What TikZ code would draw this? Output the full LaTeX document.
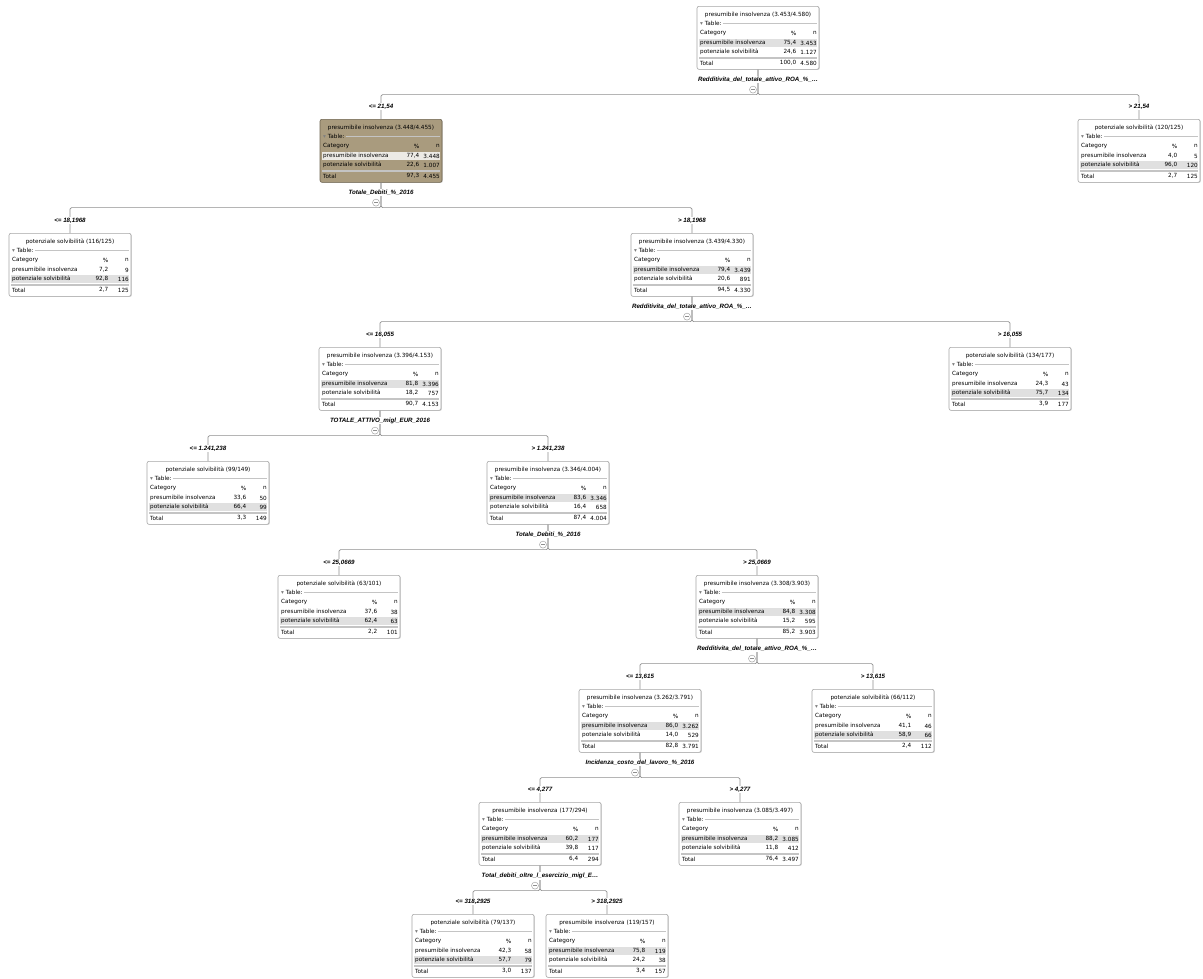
\documentclass[tikz,border=0pt]{standalone}
\usepackage{fontspec}
\newfontfamily\boxfont{DejaVu Sans}
\newfontfamily\labfont{Liberation Sans}
\usetikzlibrary{calc}

\definecolor{linegray}{HTML}{8E8E8E}
\definecolor{boxline}{HTML}{A6A6A6}
\definecolor{shadowc}{HTML}{D6D6D6}
\definecolor{rowhl}{HTML}{E0E0E0}
\definecolor{rulec}{HTML}{C4C4C4}
\definecolor{tanfill}{HTML}{A99B7E}
\definecolor{tanline}{HTML}{6E6450}
\definecolor{tanhl}{HTML}{ECEAE5}

\newcommand\txtf{\boxfont\fontsize{5.7}{6.2}\selectfont}
\newcommand\condf{\labfont\bfseries\itshape\fontsize{6.2}{7}\selectfont}

\tikzset{
  treebox/.style={draw=boxline, fill=white, rounded corners=2pt, line width=0.6pt,
    minimum width=122pt, minimum height=63pt, inner sep=0pt, anchor=north},
  selbox/.style={treebox, fill=tanfill, draw=tanline},
  link/.style={draw=linegray, line width=0.7pt, rounded corners=1.5pt},
  cond/.style={font=\condf, fill=white, inner sep=1pt},
  attr/.style={font=\condf, fill=white, inner sep=1pt},
  txt/.style={font=\txtf, inner sep=0pt},
  collapse/.style={circle, draw=boxline, fill=white, minimum size=7pt, inner sep=0pt,
    line width=0.5pt,
    path picture={\draw[linegray, line width=0.5pt]
      ([xshift=-1.8pt]path picture bounding box.center) --
      ([xshift=1.8pt]path picture bounding box.center);}},
}

% box frame with title and highlighted row
% #1 name, #2 centre x, #3 top y, #4 style, #5 title, #6 highlighted row, #7 highlight colour
\newcommand\tnode[7]{%
  \fill[shadowc, rounded corners=2pt] (#2-60.2,#3+0.9) rectangle (#2+61.9,#3+63.9);
  \node[#4] (#1) at (#2,#3) {};
  \fill[#7] ($(#1.north)+(-59,24+9*#6)$) rectangle ($(#1.north)+(59,32+9*#6)$);
  \node[txt] (#1-title) at ($(#1.north)+(0,8.5)$) {#5};
  \node[txt, anchor=west] (#1-tab) at ($(#1.north)+(-58,17)$) {{\color{gray}▾} Table:};
  \draw[rulec, line width=0.4pt] ($(#1-tab.east)+(1,0)$) -- ($(#1.north)+(59,17)$);
}

% table rows: #1 name, #2/#3 first class, #4/#5 second class, #6/#7 total
\newcommand\trows[7]{%
  \node[txt, anchor=west] (#1-hc) at ($(#1.north)+(-58,27)$) {Category};
  \node[txt, anchor=east] (#1-hp) at ($(#1.north)+(38.5,27)$) {\%};
  \node[txt, anchor=east] (#1-hn) at ($(#1.north)+(59,27)$) {n};
  \node[txt, anchor=west] (#1-r1) at ($(#1.north)+(-58,37)$) {presumibile insolvenza};
  \node[txt, anchor=east] (#1-r1p) at ($(#1.north)+(38.5,37)$) {#2};
  \node[txt, anchor=east] (#1-r1n) at ($(#1.north)+(59,37)$) {#3};
  \node[txt, anchor=west] (#1-r2) at ($(#1.north)+(-58,46)$) {potenziale solvibilità};
  \node[txt, anchor=east] (#1-r2p) at ($(#1.north)+(38.5,46)$) {#4};
  \node[txt, anchor=east] (#1-r2n) at ($(#1.north)+(59,46)$) {#5};
  \draw[rulec, line width=0.4pt] ($(#1.north)+(-59,51)$) -- ($(#1.north)+(59,51)$);
  \draw[rulec, line width=0.4pt] ($(#1.north)+(-59,52.3)$) -- ($(#1.north)+(59,52.3)$);
  \node[txt, anchor=west] (#1-tt) at ($(#1.north)+(-58,57)$) {Total};
  \node[txt, anchor=east] (#1-tp) at ($(#1.north)+(38.5,57)$) {#6};
  \node[txt, anchor=east] (#1-tn) at ($(#1.north)+(59,57)$) {#7};
}

% split: #1 parent, #2 left child, #3 right child, #4 attribute, #5/#6 conditions
\newcommand\branch[6]{%
  \draw[link] (#1.south) -- ++(0,25) -| (#2.north);
  \draw[link] (#1.south) -- ++(0,25) -| (#3.north);
  \node[attr] (#1-attr) at ($(#1.south)+(0,10)$) {#4};
  \node[collapse] (#1-col) at ($(#1.south)+(-5,20)$) {};
  \node[cond] (#2-cond) at ($(#2.north)+(0,-12.5)$) {#5};
  \node[cond] (#3-cond) at ($(#3.north)+(0,-12.5)$) {#6};
}

\begin{document}
\begin{tikzpicture}[x=1pt, y=-1pt]
\useasboundingbox[fill=white] (0,0) rectangle (1203,978);

% nodes
\tnode{root}{758}{6}{treebox}{presumibile insolvenza (3.453/4.580)}{1}{rowhl}
\trows{root}{75,4}{3.453}{24,6}{1.127}{100,0}{4.580}

\tnode{a}{381}{119}{selbox}{presumibile insolvenza (3.448/4.455)}{1}{tanhl}
\trows{a}{77,4}{3.448}{22,6}{1.007}{97,3}{4.455}

\tnode{r1}{1139}{119}{treebox}{potenziale solvibilità (120/125)}{2}{rowhl}
\trows{r1}{4,0}{5}{96,0}{120}{2,7}{125}

\tnode{b1}{70}{233}{treebox}{potenziale solvibilità (116/125)}{2}{rowhl}
\trows{b1}{7,2}{9}{92,8}{116}{2,7}{125}

\tnode{b2}{692}{233}{treebox}{presumibile insolvenza (3.439/4.330)}{1}{rowhl}
\trows{b2}{79,4}{3.439}{20,6}{891}{94,5}{4.330}

\tnode{c1}{380}{347}{treebox}{presumibile insolvenza (3.396/4.153)}{1}{rowhl}
\trows{c1}{81,8}{3.396}{18,2}{757}{90,7}{4.153}

\tnode{c2}{1010}{347}{treebox}{potenziale solvibilità (134/177)}{2}{rowhl}
\trows{c2}{24,3}{43}{75,7}{134}{3,9}{177}

\tnode{d1}{208}{461}{treebox}{potenziale solvibilità (99/149)}{2}{rowhl}
\trows{d1}{33,6}{50}{66,4}{99}{3,3}{149}

\tnode{d2}{548}{461}{treebox}{presumibile insolvenza (3.346/4.004)}{1}{rowhl}
\trows{d2}{83,6}{3.346}{16,4}{658}{87,4}{4.004}

\tnode{e1}{339}{575}{treebox}{potenziale solvibilità (63/101)}{2}{rowhl}
\trows{e1}{37,6}{38}{62,4}{63}{2,2}{101}

\tnode{e2}{757}{575}{treebox}{presumibile insolvenza (3.308/3.903)}{1}{rowhl}
\trows{e2}{84,8}{3.308}{15,2}{595}{85,2}{3.903}

\tnode{f1}{640}{689}{treebox}{presumibile insolvenza (3.262/3.791)}{1}{rowhl}
\trows{f1}{86,0}{3.262}{14,0}{529}{82,8}{3.791}

\tnode{f2}{873}{689}{treebox}{potenziale solvibilità (66/112)}{2}{rowhl}
\trows{f2}{41,1}{46}{58,9}{66}{2,4}{112}

\tnode{g1}{540}{802}{treebox}{presumibile insolvenza (177/294)}{1}{rowhl}
\trows{g1}{60,2}{177}{39,8}{117}{6,4}{294}

\tnode{g2}{740}{802}{treebox}{presumibile insolvenza (3.085/3.497)}{1}{rowhl}
\trows{g2}{88,2}{3.085}{11,8}{412}{76,4}{3.497}

\tnode{h1}{473}{914}{treebox}{potenziale solvibilità (79/137)}{2}{rowhl}
\trows{h1}{42,3}{58}{57,7}{79}{3,0}{137}

\tnode{h2}{607}{914}{treebox}{presumibile insolvenza (119/157)}{1}{rowhl}
\trows{h2}{75,8}{119}{24,2}{38}{3,4}{157}

% splits
\branch{root}{a}{r1}{Redditivita\_del\_totale\_attivo\_ROA\_\%\_…}{<= 21,54}{> 21,54}
\branch{a}{b1}{b2}{Totale\_Debiti\_\%\_2016}{<= 18,1968}{> 18,1968}
\branch{b2}{c1}{c2}{Redditivita\_del\_totale\_attivo\_ROA\_\%\_…}{<= 16,055}{> 16,055}
\branch{c1}{d1}{d2}{TOTALE\_ATTIVO\_migl\_EUR\_2016}{<= 1.241,238}{> 1.241,238}
\branch{d2}{e1}{e2}{Totale\_Debiti\_\%\_2016}{<= 25,0669}{> 25,0669}
\branch{e2}{f1}{f2}{Redditivita\_del\_totale\_attivo\_ROA\_\%\_…}{<= 13,615}{> 13,615}
\branch{f1}{g1}{g2}{Incidenza\_costo\_del\_lavoro\_\%\_2016}{<= 4,277}{> 4,277}
\branch{g1}{h1}{h2}{Total\_debiti\_oltre\_l\_esercizio\_migl\_E…}{<= 318,2925}{> 318,2925}
\end{tikzpicture}
\end{document}
